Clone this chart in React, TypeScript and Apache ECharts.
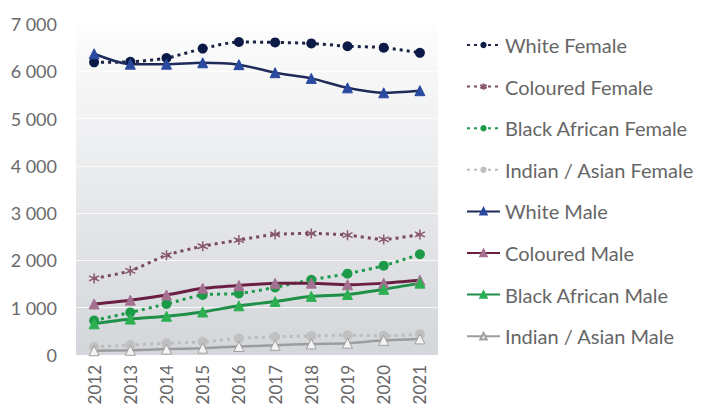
import React, { useEffect, useRef } from "react";
import * as echarts from "echarts";

const years = ["2012", "2013", "2014", "2015", "2016", "2017", "2018", "2019", "2020", "2021"];
const whiteFemale = [6190, 6200, 6280, 6480, 6620, 6610, 6590, 6530, 6500, 6390];
const colouredFemale = [1620, 1780, 2110, 2300, 2430, 2550, 2570, 2535, 2445, 2550];
const blackAfricanFemale = [730, 900, 1080, 1270, 1300, 1430, 1590, 1720, 1890, 2130];
const indianAsianFemale = [170, 210, 250, 280, 350, 385, 400, 420, 405, 440];
const whiteMale = [6370, 6150, 6150, 6180, 6140, 5970, 5850, 5650, 5545, 5590];
const colouredMale = [1080, 1160, 1270, 1410, 1470, 1515, 1520, 1485, 1520, 1580];
const blackAfricanMale = [660, 760, 820, 910, 1040, 1130, 1240, 1280, 1390, 1520];
const indianAsianMale = [90, 100, 125, 145, 180, 205, 235, 250, 310, 340];
const yTicks = { min: 0, max: 7000, interval: 1000 };

const asterisk =
  "path://M5,0 L5,10 M0.7,2.5 L9.3,7.5 M0.7,7.5 L9.3,2.5";

export default function App() {
  const ref = useRef<HTMLDivElement>(null);
  useEffect(() => {
    const chart = echarts.init(ref.current!, null, { renderer: "svg" });
    const dotted = (name: string, data: number[], color: string, symbol: string, symColor: string, extra: any = {}) => ({
      name,
      type: "line",
      data,
      smooth: 0.25,
      symbol,
      symbolSize: 10,
      lineStyle: { color, width: 3, type: [3, 4] },
      itemStyle: { color: symColor, borderColor: symColor, borderWidth: 0, ...extra },
    });
    const solid = (name: string, data: number[], color: string, symColor: string, border: string, lw = 3) => ({
      name,
      type: "line",
      data,
      smooth: 0.25,
      symbol: "triangle",
      symbolSize: 10,
      lineStyle: { color, width: lw },
      itemStyle: { color: symColor, borderColor: border, borderWidth: 1 },
    });
    chart.setOption({
      animation: false,
      textStyle: { fontFamily: "Lato" },
      grid: {
        left: 76,
        right: 264,
        top: 24,
        bottom: 55,
        show: true,
        borderWidth: 0,
        backgroundColor: new echarts.graphic.LinearGradient(0, 0, 0, 1, [
          { offset: 0, color: "#fdfdfd" },
          { offset: 1, color: "#d3d6da" },
        ]),
      },
      legend: {
        orient: "vertical",
        left: 461,
        top: 30,
        itemWidth: 33,
        itemHeight: 8,
        itemGap: 21.6,
        textStyle: { fontSize: 20, color: "#666666", fontFamily: "Lato" },
        data: [
          "White Female",
          "Coloured Female",
          "Black African Female",
          "Indian / Asian Female",
          "White Male",
          "Coloured Male",
          "Black African Male",
          "Indian / Asian Male",
        ],
      },
      xAxis: {
        type: "category",
        data: years,
        boundaryGap: true,
        axisLine: { show: false },
        axisTick: { show: false },
        axisLabel: { rotate: 90, fontSize: 17, color: "#666666", margin: 10, fontFamily: "Lato" },
      },
      yAxis: {
        type: "value",
        ...yTicks,
        axisLine: { show: false },
        axisTick: { show: false },
        splitLine: { show: true, lineStyle: { color: "rgba(255,255,255,0.8)", width: 1 } },
        axisLabel: {
          fontSize: 18,
          color: "#6a6a6a",
          margin: 19,
          fontFamily: "Lato",
          formatter: (v: number) => String(v).replace(/\B(?=(\d{3})+(?!\d))/g, " "),
        },
      },
      series: [
        dotted("White Female", whiteFemale, "#1b2444", "circle", "#0c1a47"),
        dotted("Coloured Female", colouredFemale, "#7a4a5e", asterisk, "#8a5a70", { color: "none", borderWidth: 1.5 }),
        dotted("Black African Female", blackAfricanFemale, "#1e9a4c", "circle", "#1c9a48"),
        dotted("Indian / Asian Female", indianAsianFemale, "#bcbcbc", "circle", "#c0c0c0"),
        solid("White Male", whiteMale, "#1d2a5a", "#2a4aa0", "#2a4aa0", 2.5),
        solid("Coloured Male", colouredMale, "#6a1f42", "#a47290", "#a47290"),
        solid("Black African Male", blackAfricanMale, "#1f9048", "#2cb052", "#2cb052"),
        solid("Indian / Asian Male", indianAsianMale, "#9c9c9c", "#f4f4f4", "#a0a0a0", 2.5),
      ],
    });
    return () => chart.dispose();
  }, []);
  return <div ref={ref} style={{ width: 702, height: 410, position: "absolute", left: 0, top: 0 }} />;
}
